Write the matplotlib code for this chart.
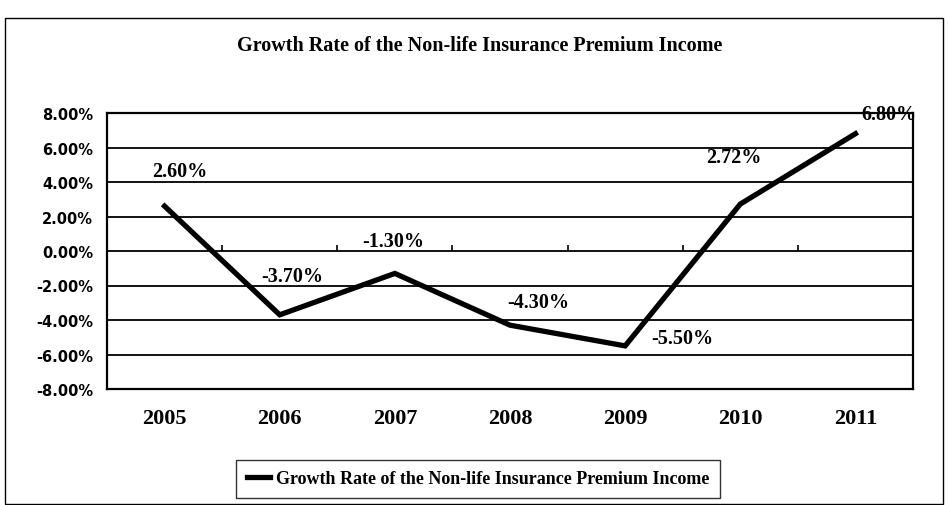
import numpy as np
import matplotlib
matplotlib.use("Agg")
import matplotlib.pyplot as plt
from matplotlib.patches import Rectangle
from matplotlib.ticker import FuncFormatter

# growth rate of non-life premium income, in percent
years = ['2005', '2006', '2007', '2008', '2009', '2010', '2011']
growth = [2.60, -3.70, -1.30, -4.30, -5.50, 2.72, 6.80]
value_labels = ['2.60%', '-3.70%', '-1.30%', '-4.30%', '-5.50%', '2.72%', '6.80%']
# where each value label sits relative to its point (points)
label_offsets = [(11, 25), (9, 28), (-1, 23), (20, 17), (41, 6), (-5, 34), (24, 14)]

title = 'Growth Rate of the Non-life Insurance Premium Income'
series_name = 'Growth Rate of the Non-life Insurance Premium Income'

serif = 'Liberation Serif'

fig = plt.figure(figsize=(9.48, 5.06), dpi=100)
ax = fig.add_axes([107 / 948, 1 - 390 / 506, (913 - 107) / 948, (390 - 114) / 506])

x = np.arange(len(years))
line, = ax.plot(x, growth, color='black', lw=3.8, solid_joinstyle='miter',
                label=series_name, zorder=3)

for xi, yi, txt, off in zip(x, growth, value_labels, label_offsets):
    ax.annotate(txt, (xi, yi), xytext=off, textcoords='offset points',
                ha='center', va='center', fontsize=14.5, fontfamily=serif,
                fontweight='bold', zorder=4)

ax.set_xlim(-0.5, len(years) - 0.5)
ax.set_ylim(-8, 8)
ax.set_yticks(np.arange(-8, 9, 2))
ax.yaxis.set_major_formatter(FuncFormatter(lambda v, p: f'{v:.2f}%'))
ax.grid(axis='y', color='black', lw=1.3)
ax.set_axisbelow(True)

ax.set_xticks(x)
ax.set_xticklabels(years, fontfamily=serif, fontweight='bold', fontsize=16)
ax.tick_params(axis='x', length=0, pad=14)
ax.tick_params(axis='y', length=0, pad=10)
for lbl in ax.get_yticklabels():
    lbl.set_fontfamily('DejaVu Sans')
    lbl.set_fontweight('bold')
    lbl.set_fontsize(10.5)

# category boundary ticks sit on the zero line
ax.vlines(x[:-1] + 0.5, 0, 0.35, color='black', lw=1.2)

for s in ax.spines.values():
    s.set_color('black')
    s.set_linewidth(1.6)

fig.text(480 / 948, 1 - 46 / 506, title, ha='center', va='center',
         fontsize=14.5, fontfamily=serif, fontweight='bold')

leg = fig.legend(handles=[line], loc='center', bbox_to_anchor=(478 / 948, 1 - 480 / 506),
                 frameon=True, fancybox=False, edgecolor='black', handlelength=1.3,
                 handletextpad=0.3, borderpad=0.6,
                 prop={'family': serif, 'weight': 'bold', 'size': 13})
leg.get_frame().set_linewidth(1.0)

# outer chart frame
fig.add_artist(Rectangle((5 / 948, 1 - 505 / 506), 938 / 948, 486 / 506,
                         transform=fig.transFigure, fill=False, ec='black', lw=1.0))

fig.savefig('out.png', dpi=100)
